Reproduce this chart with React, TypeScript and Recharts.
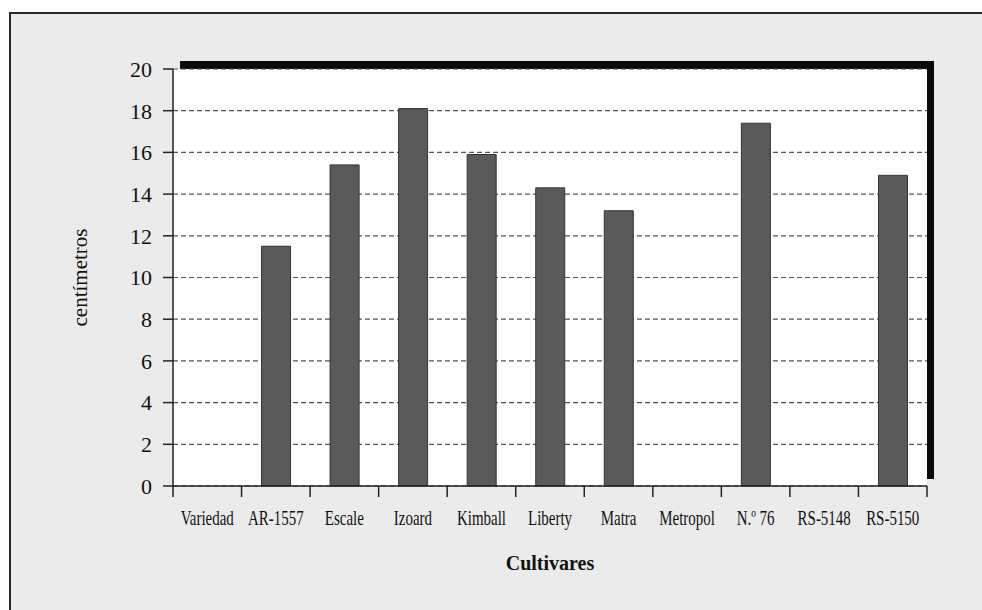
import React from 'react';
import { BarChart, Bar, XAxis, YAxis, CartesianGrid } from 'recharts';

const categories = ['Variedad', 'AR-1557', 'Escale', 'Izoard', 'Kimball', 'Liberty', 'Matra', 'Metropol', 'N.º 76', 'RS-5148', 'RS-5150'];
const heights: (number | null)[] = [null, 11.5, 15.4, 18.1, 15.9, 14.3, 13.2, null, 17.4, null, 14.9];
const yTicks = [0, 2, 4, 6, 8, 10, 12, 14, 16, 18, 20];

const data = categories.map((c, i) => ({ name: c, value: heights[i] }));

const W = 982;
const H = 610;
const MARGIN = { top: 69, right: 55, bottom: 0, left: 0 };
const Y_AXIS_W = 173;
const X_AXIS_H = 124;
const PLOT_W = W - MARGIN.left - MARGIN.right - Y_AXIS_W;
const FONT = '"Liberation Serif", "Times New Roman", serif';

const XTick = (props: any) => {
  const { x, y, payload, index, visibleTicksCount } = props;
  const count = visibleTicksCount || categories.length;
  const band = PLOT_W / count;
  const left = x - band / 2;
  const right = x + band / 2;
  return (
    <g>
      <line x1={left} x2={left} y1={y} y2={y + 11} stroke="#222" strokeWidth={1.5} />
      {index === count - 1 && (
        <line x1={right} x2={right} y1={y} y2={y + 11} stroke="#222" strokeWidth={1.5} />
      )}
      <text
        transform={`translate(${x},${y + 39}) scale(0.68,1)`}
        textAnchor="middle"
        fontFamily={FONT}
        fontSize={22}
        fill="#111"
      >
        {payload.value}
      </text>
    </g>
  );
};

const YLabel = (props: any) => {
  const vb = props.viewBox || { x: 0, y: 69, width: 173, height: 417 };
  const cx = vb.x + 80;
  const cy = vb.y + vb.height / 2;
  return (
    <text
      x={cx}
      y={cy}
      transform={`rotate(-90, ${cx}, ${cy})`}
      textAnchor="middle"
      dominantBaseline="central"
      fontFamily={FONT}
      fontSize={21}
      fill="#111"
    >
      centímetros
    </text>
  );
};

const XLabel = (props: any) => {
  const vb = props.viewBox || { x: 173, y: 486, width: 754, height: 124 };
  const cx = vb.x + vb.width / 2;
  const cy = vb.y + 77;
  return (
    <text
      x={cx}
      y={cy}
      textAnchor="middle"
      dominantBaseline="central"
      fontFamily={FONT}
      fontSize={20}
      fontWeight="bold"
      fill="#111"
    >
      Cultivares
    </text>
  );
};

export default function App() {
  return (
    <div style={{ position: 'fixed', left: 0, top: 0, width: W, height: H, overflow: 'hidden', background: '#fff' }}>
      <div
        style={{
          position: 'absolute',
          left: 9,
          top: 12,
          width: W + 20,
          height: H + 20,
          borderTop: '2px solid #2a2a2a',
          borderLeft: '2px solid #2a2a2a',
          background: '#ebebeb',
        }}
      />
      <div
        style={{
          position: 'absolute',
          left: Y_AXIS_W + 7,
          top: MARGIN.top - 8,
          width: PLOT_W,
          height: 418,
          background: '#0a0a0a',
        }}
      />
      <div style={{ position: 'absolute', left: 0, top: 0 }}>
        <BarChart width={W} height={H} data={data} margin={MARGIN} barCategoryGap={0}>
          <CartesianGrid
            vertical={false}
            horizontal={true}
            fill="#ffffff"
            stroke="#555"
            strokeWidth={1.2}
            strokeDasharray="5 3"
          />
          <XAxis
            dataKey="name"
            height={X_AXIS_H}
            interval={0}
            tickLine={false}
            tickSize={0}
            tickMargin={0}
            axisLine={{ stroke: '#222', strokeWidth: 1.5 }}
            tick={<XTick />}
            label={<XLabel />}
          />
          <YAxis
            width={Y_AXIS_W}
            domain={[0, 20]}
            ticks={yTicks}
            interval={0}
            tickSize={10}
            tickMargin={11}
            axisLine={{ stroke: '#222', strokeWidth: 1.5 }}
            tickLine={{ stroke: '#222', strokeWidth: 1.5 }}
            tick={{ fontFamily: FONT, fontSize: 22, fill: '#111' }}
            label={<YLabel />}
          />
          <Bar
            dataKey="value"
            barSize={29}
            fill="#5a5a5a"
            stroke="#333"
            strokeWidth={1}
            isAnimationActive={false}
          />
        </BarChart>
      </div>
    </div>
  );
}
